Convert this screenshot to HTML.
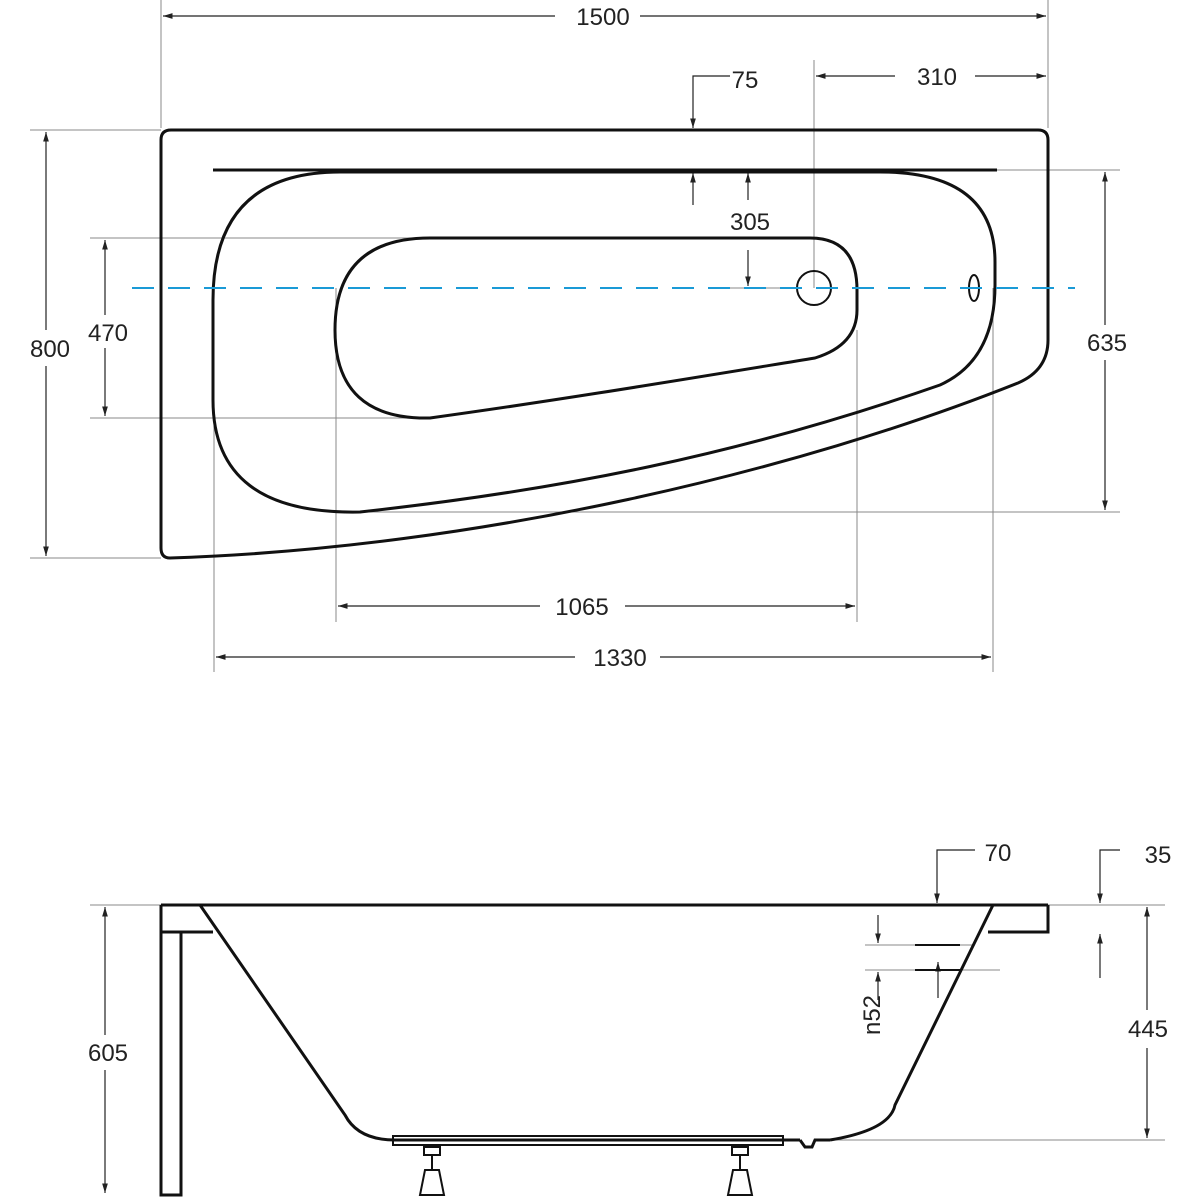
<!DOCTYPE html><html><head><style>body{margin:0;background:#fff}svg{display:block}text{font-family:"Liberation Sans",sans-serif;font-size:24px;fill:#222}</style></head><body>
<svg width="1200" height="1200" viewBox="0 0 1200 1200">
<defs><marker id="a" viewBox="0 0 10 10" refX="10" refY="5" markerWidth="8" markerHeight="8" orient="auto-start-reverse"><path d="M0,2 L10,5 L0,8z" fill="#222"/></marker></defs>
<g stroke="#888" stroke-width="1" fill="none">
<line x1="161" y1="0" x2="161" y2="128"/><line x1="1048" y1="0" x2="1048" y2="128"/>
<line x1="814" y1="60" x2="814" y2="288"/>
<line x1="30" y1="130" x2="161" y2="130"/><line x1="30" y1="558" x2="161" y2="558"/>
<line x1="90" y1="238" x2="430" y2="238"/><line x1="90" y1="418" x2="430" y2="418"/>
<line x1="997" y1="170" x2="1120" y2="170"/><line x1="360" y1="512" x2="1120" y2="512"/>
<line x1="336" y1="288" x2="336" y2="622"/><line x1="857" y1="330" x2="857" y2="622"/>
<line x1="214" y1="400" x2="214" y2="672"/><line x1="993" y1="288" x2="993" y2="672"/>
<line x1="728" y1="288" x2="800" y2="288"/>
<line x1="90" y1="905" x2="161" y2="905"/><line x1="1048" y1="905" x2="1165" y2="905"/><line x1="830" y1="1140" x2="1165" y2="1140"/>
<line x1="865" y1="945" x2="975" y2="945"/><line x1="865" y1="970" x2="1000" y2="970"/>
</g>
<g stroke="#222" stroke-width="1.2" fill="none">
<line x1="163" y1="16" x2="555" y2="16" marker-start="url(#a)"/><line x1="640" y1="16" x2="1046" y2="16" marker-end="url(#a)"/>
<line x1="816" y1="76" x2="895" y2="76" marker-start="url(#a)"/><line x1="975" y1="76" x2="1046" y2="76" marker-end="url(#a)"/>
<polyline points="730,76 693,76 693,128" marker-end="url(#a)"/>
<line x1="693" y1="205" x2="693" y2="173" marker-end="url(#a)"/>
<line x1="748" y1="200" x2="748" y2="173" marker-end="url(#a)"/><line x1="748" y1="250" x2="748" y2="286" marker-end="url(#a)"/>
<line x1="46" y1="330" x2="46" y2="132" marker-end="url(#a)"/><line x1="46" y1="366" x2="46" y2="556" marker-end="url(#a)"/>
<line x1="105" y1="315" x2="105" y2="240" marker-end="url(#a)"/><line x1="105" y1="348" x2="105" y2="416" marker-end="url(#a)"/>
<line x1="1105" y1="325" x2="1105" y2="172" marker-end="url(#a)"/><line x1="1105" y1="360" x2="1105" y2="510" marker-end="url(#a)"/>
<line x1="338" y1="606" x2="540" y2="606" marker-start="url(#a)"/><line x1="625" y1="606" x2="855" y2="606" marker-end="url(#a)"/>
<line x1="216" y1="657" x2="575" y2="657" marker-start="url(#a)"/><line x1="660" y1="657" x2="991" y2="657" marker-end="url(#a)"/>
<polyline points="975,850 937,850 937,903" marker-end="url(#a)"/>
<polyline points="1120,850 1100,850 1100,903" marker-end="url(#a)"/>
<line x1="1100" y1="978" x2="1100" y2="934" marker-end="url(#a)"/>
<line x1="878" y1="915" x2="878" y2="943" marker-end="url(#a)"/>
<line x1="878" y1="1000" x2="878" y2="972" marker-end="url(#a)"/>
<line x1="938" y1="998" x2="938" y2="962" marker-end="url(#a)"/>
<line x1="105" y1="1035" x2="105" y2="907" marker-end="url(#a)"/><line x1="105" y1="1070" x2="105" y2="1193" marker-end="url(#a)"/>
<line x1="1147" y1="1010" x2="1147" y2="907" marker-end="url(#a)"/><line x1="1147" y1="1048" x2="1147" y2="1138" marker-end="url(#a)"/>
</g>
<g stroke="#111" stroke-width="3" fill="none">
<path d="M171,130 H1038 Q1048,130 1048,140 V340 Q1048,370 1018,383 C800,470 480,548 170,558 Q161,558 161,548 V140 Q161,130 171,130 Z"/>
<line x1="213" y1="170" x2="997" y2="170"/>
<path d="M340,172 H880 Q995,172 995,262 V285 Q995,360 940,385 C740,455 560,490 360,512 Q213,515 213,400 V300 Q213,172 340,172 Z"/>
<path d="M430,238 H810 Q857,238 857,290 V310 Q857,345 815,358 C680,380 560,400 430,418 Q335,420 335,330 Q335,238 430,238 Z"/>
<circle cx="814" cy="288" r="17" stroke-width="2"/>
<ellipse cx="974" cy="288" rx="5" ry="13" stroke-width="2"/>
<line x1="161" y1="905" x2="1048" y2="905"/>
<polyline points="988,932 1048,932 1048,905"/>
<polyline points="161,905 161,1195 181,1195 181,932 213,932"/>
<line x1="161" y1="932" x2="181" y2="932"/>
<path d="M200,905 L345,1115 Q358,1140 395,1140 H800 M830,1140 Q890,1130 895,1105 L993,905"/>
<path d="M800,1140 L805,1147 H812 L815,1140 H830"/>
<rect x="393" y="1136" width="390" height="9" stroke-width="2"/>
<line x1="915" y1="945" x2="960" y2="945" stroke-width="2"/><line x1="915" y1="970" x2="960" y2="970" stroke-width="2"/>
</g>
<g stroke="#111" stroke-width="2" fill="none">
<rect x="424" y="1147" width="16" height="8"/><line x1="432" y1="1155" x2="432" y2="1170"/><path d="M425,1170 H439 L444,1195 H420 Z"/>
<rect x="732" y="1147" width="16" height="8"/><line x1="740" y1="1155" x2="740" y2="1170"/><path d="M733,1170 H747 L752,1195 H728 Z"/>
</g>
<line x1="132" y1="288" x2="1075" y2="288" stroke="#1a9ad6" stroke-width="2" stroke-dasharray="22,14"/>
<text x="603" y="25" text-anchor="middle">1500</text>
<text x="937" y="85" text-anchor="middle">310</text>
<text x="745" y="88" text-anchor="middle">75</text>
<text x="750" y="230" text-anchor="middle">305</text>
<text x="50" y="357" text-anchor="middle">800</text>
<text x="108" y="341" text-anchor="middle">470</text>
<text x="1107" y="351" text-anchor="middle">635</text>
<text x="582" y="615" text-anchor="middle">1065</text>
<text x="620" y="666" text-anchor="middle">1330</text>
<text x="998" y="861" text-anchor="middle">70</text>
<text x="1158" y="863" text-anchor="middle">35</text>
<text x="108" y="1061" text-anchor="middle">605</text>
<text x="1148" y="1037" text-anchor="middle">445</text>
<text transform="translate(880,1015) rotate(-90)" text-anchor="middle">n52</text>
</svg></body></html>
